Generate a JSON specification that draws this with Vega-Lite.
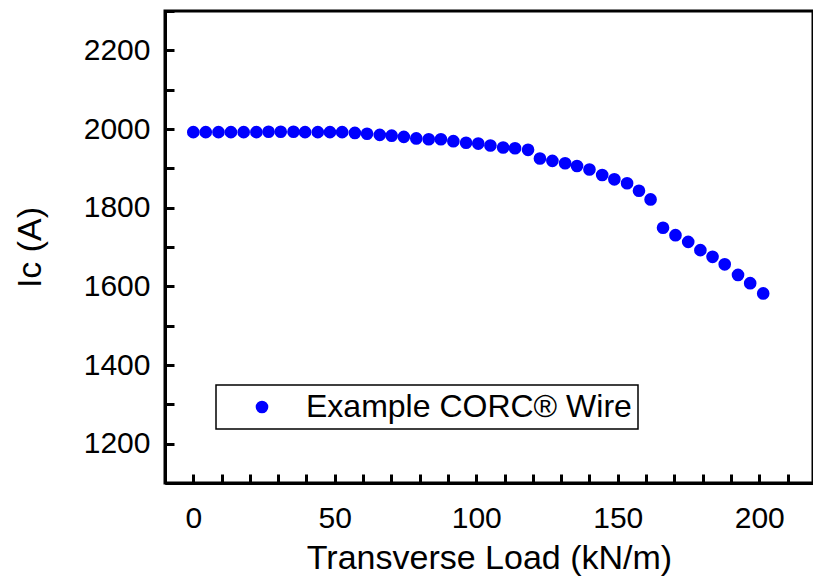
{
  "$schema": "https://vega.github.io/schema/vega-lite/v6.json",
  "width": 648,
  "height": 472,
  "autosize": {"type": "none"},
  "padding": {"left": 165, "top": 11, "right": 0, "bottom": 97},
  "background": "white",
  "config": {
    "font": "Liberation Sans",
    "view": {"stroke": "black", "strokeWidth": 3},
    "axis": {
      "grid": false,
      "labelColor": "black",
      "titleColor": "black",
      "labelFontSize": 30,
      "titleFontSize": 34,
      "titleFontWeight": "normal",
      "format": "d"
    },
    "legend": {
      "orient": "none",
      "legendX": 51,
      "legendY": 374,
      "strokeColor": "black",
      "strokeWidth": 1.5,
      "fillColor": "white",
      "padding": 6,
      "symbolOffset": 24,
      "labelOffset": 28,
      "labelFontSize": 32,
      "labelColor": "black",
      "labelLimit": 0,
      "symbolSize": 160,
      "symbolType": "circle"
    }
  },
  "data": {
    "values": [
      {"load": 0.0, "ic": 1992, "series": "Example CORC® Wire"},
      {"load": 4.4, "ic": 1992, "series": "Example CORC® Wire"},
      {"load": 8.9, "ic": 1992, "series": "Example CORC® Wire"},
      {"load": 13.3, "ic": 1992, "series": "Example CORC® Wire"},
      {"load": 17.8, "ic": 1992, "series": "Example CORC® Wire"},
      {"load": 22.3, "ic": 1992, "series": "Example CORC® Wire"},
      {"load": 26.6, "ic": 1993, "series": "Example CORC® Wire"},
      {"load": 30.9, "ic": 1993, "series": "Example CORC® Wire"},
      {"load": 35.4, "ic": 1993, "series": "Example CORC® Wire"},
      {"load": 39.5, "ic": 1992, "series": "Example CORC® Wire"},
      {"load": 44.0, "ic": 1992, "series": "Example CORC® Wire"},
      {"load": 48.3, "ic": 1992, "series": "Example CORC® Wire"},
      {"load": 52.6, "ic": 1992, "series": "Example CORC® Wire"},
      {"load": 57.1, "ic": 1990, "series": "Example CORC® Wire"},
      {"load": 61.4, "ic": 1988, "series": "Example CORC® Wire"},
      {"load": 65.9, "ic": 1985, "series": "Example CORC® Wire"},
      {"load": 70.1, "ic": 1983, "series": "Example CORC® Wire"},
      {"load": 74.4, "ic": 1980, "series": "Example CORC® Wire"},
      {"load": 78.8, "ic": 1976, "series": "Example CORC® Wire"},
      {"load": 83.2, "ic": 1974, "series": "Example CORC® Wire"},
      {"load": 87.5, "ic": 1974, "series": "Example CORC® Wire"},
      {"load": 91.9, "ic": 1969, "series": "Example CORC® Wire"},
      {"load": 96.4, "ic": 1965, "series": "Example CORC® Wire"},
      {"load": 100.7, "ic": 1963, "series": "Example CORC® Wire"},
      {"load": 105.0, "ic": 1958, "series": "Example CORC® Wire"},
      {"load": 109.5, "ic": 1953, "series": "Example CORC® Wire"},
      {"load": 113.7, "ic": 1951, "series": "Example CORC® Wire"},
      {"load": 118.3, "ic": 1947, "series": "Example CORC® Wire"},
      {"load": 122.5, "ic": 1925, "series": "Example CORC® Wire"},
      {"load": 126.9, "ic": 1919, "series": "Example CORC® Wire"},
      {"load": 131.4, "ic": 1913, "series": "Example CORC® Wire"},
      {"load": 135.6, "ic": 1906, "series": "Example CORC® Wire"},
      {"load": 140.0, "ic": 1897, "series": "Example CORC® Wire"},
      {"load": 144.5, "ic": 1883, "series": "Example CORC® Wire"},
      {"load": 148.8, "ic": 1872, "series": "Example CORC® Wire"},
      {"load": 153.3, "ic": 1862, "series": "Example CORC® Wire"},
      {"load": 157.5, "ic": 1843, "series": "Example CORC® Wire"},
      {"load": 161.6, "ic": 1821, "series": "Example CORC® Wire"},
      {"load": 166.0, "ic": 1749, "series": "Example CORC® Wire"},
      {"load": 170.4, "ic": 1730, "series": "Example CORC® Wire"},
      {"load": 174.9, "ic": 1713, "series": "Example CORC® Wire"},
      {"load": 179.2, "ic": 1692, "series": "Example CORC® Wire"},
      {"load": 183.5, "ic": 1675, "series": "Example CORC® Wire"},
      {"load": 187.8, "ic": 1656, "series": "Example CORC® Wire"},
      {"load": 192.5, "ic": 1629, "series": "Example CORC® Wire"},
      {"load": 196.8, "ic": 1608, "series": "Example CORC® Wire"},
      {"load": 201.4, "ic": 1582, "series": "Example CORC® Wire"}
    ]
  },
  "mark": {"type": "point", "filled": true, "size": 160, "opacity": 1},
  "encoding": {
    "x": {
      "field": "load",
      "type": "quantitative",
      "scale": {"domain": [-10, 219], "nice": false, "zero": false},
      "axis": {
        "title": "Transverse Load (kN/m)",
        "tickCount": 23,
        "labelOverlap": false,
        "labelExpr": "datum.value % 50 === 0 ? datum.label : ''",
        "tickColor": "black",
        "tickWidth": 3,
        "tickSize": -9,
        "domainColor": "black",
        "domainWidth": 3,
        "labelPadding": 29,
        "titlePadding": 8
      }
    },
    "y": {
      "field": "ic",
      "type": "quantitative",
      "scale": {"domain": [1100, 2300], "nice": false, "zero": false},
      "axis": {
        "title": "Ic (A)",
        "tickCount": 12,
        "labelOverlap": false,
        "labelExpr": "datum.value % 200 === 0 ? datum.label : ''",
        "tickColor": "black",
        "tickWidth": 3,
        "tickSize": -9,
        "domainColor": "black",
        "domainWidth": 3,
        "labelPadding": 24,
        "titlePadding": 36
      }
    },
    "color": {
      "field": "series",
      "type": "nominal",
      "scale": {"range": ["#0000ff"]},
      "legend": {"title": null}
    }
  }
}
